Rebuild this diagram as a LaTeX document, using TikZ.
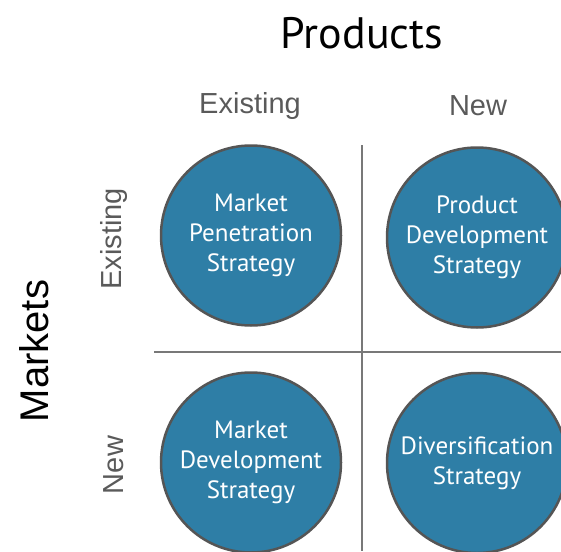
\documentclass[tikz,border=0pt]{standalone}
\usepackage{fontspec}
\setmainfont{Liberation Sans}
\newfontfamily\dinfont{PT Sans}
\usetikzlibrary{positioning}

\definecolor{ansoffblue}{RGB}{46,126,166}
\definecolor{ringgrey}{RGB}{85,85,85}
\definecolor{labelgrey}{RGB}{90,90,90}
\definecolor{rulegrey}{RGB}{120,120,120}

\tikzset{
  strategy/.style={circle, draw=ringgrey, line width=2.5pt, fill=ansoffblue,
    minimum size=180pt, inner sep=0pt, text=white, align=center,
    font=\dinfont\fontsize{25}{30}\selectfont},
  axistitle/.style={text=black, inner sep=0pt},
  headlabel/.style={text=labelgrey, inner sep=0pt, font=\fontsize{29}{30}\selectfont},
  divider/.style={draw=rulegrey, line width=2pt}
}

\begin{document}
\begin{tikzpicture}[x=1pt,y=-1pt]
\useasboundingbox (0,0) rectangle (561,551);
\clip (0,0) rectangle (561,551);

% axis titles
\node[axistitle, font=\dinfont\fontsize{44}{48}\selectfont] (products) at (362,33) {Products};
\node[axistitle, font=\fontsize{40}{44}\selectfont, rotate=90] (markets) at (34,351) {Markets};

% column and row labels
\node[headlabel] (colexist) at (250,106) {Existing};
\node[headlabel] (colnew) at (478,106) {New};
\node[headlabel, rotate=90] (rowexist) at (114,239) {Existing};
\node[headlabel, rotate=90] (rownew) at (114,465) {New};

% grid
\coordinate (vtop) at (362,145);
\coordinate (vbot) at (362,551);
\coordinate (hleft) at (154,352);
\coordinate (hright) at (561,352);
\draw[divider] (vtop) -- (vbot);
\draw[divider] (hleft) -- (hright);

% the four strategies
\node[strategy] (penetration) at (251,235.5) {Market\\Penetration\\Strategy};
\node[strategy] (proddev) at (477,237.5) {Product\\Development\\Strategy};
\node[strategy] (marketdev) at (251,462.5) {Market\\Development\\Strategy};
\node[strategy] (diversify) at (477,463) {Diversification\\Strategy};

\end{tikzpicture}
\end{document}
